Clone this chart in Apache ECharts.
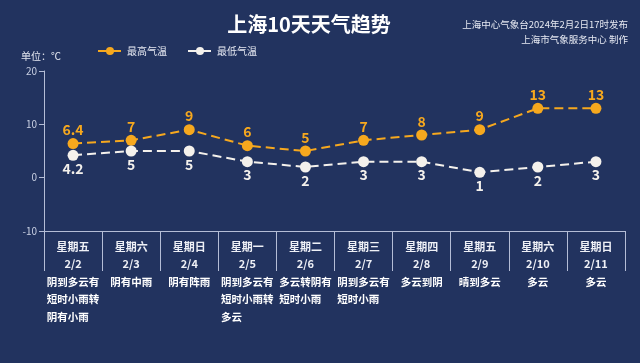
<!DOCTYPE html>
<html><head><meta charset="utf-8">
<script src="https://cdn.jsdelivr.net/npm/echarts@6/dist/echarts.min.js"></script>
<style>html,body{margin:0;padding:0;background:#22335f;}#c{width:640px;height:363px;}</style>
</head><body><div id="c"></div>
<script>
const weekdays = ['星期五','星期六','星期日','星期一','星期二','星期三','星期四','星期五','星期六','星期日'];
const dates = ['2/2','2/3','2/4','2/5','2/6','2/7','2/8','2/9','2/10','2/11'];
const weather = ['阴到多云有短时小雨转阴有小雨','阴有中雨','阴有阵雨','阴到多云有短时小雨转多云','多云转阴有短时小雨','阴到多云有短时小雨','多云到阴','晴到多云','多云','多云'];
const highTemps = [6.4, 7, 9, 6, 5, 7, 8, 9, 13, 13];
const lowTemps = [4.2, 5, 5, 3, 2, 3, 3, 1, 2, 3];
const yTicks = {min: -10, max: 20, interval: 10};

function chunk(s, n){ const out=[]; for(let i=0;i<s.length;i+=n) out.push(s.slice(i,i+n)); return out; }
const FONT = '"Noto Sans CJK SC", "Noto Sans", sans-serif';
const chart = echarts.init(document.getElementById('c'));
chart.setOption({
  backgroundColor: '#22335f',
  textStyle: {fontFamily: FONT},
  title: [
    {text: '上海10天天气趋势', left: 304, top: 9, textAlign: 'center',
     textStyle: {color: '#ffffff', fontSize: 20, fontWeight: 'bold', fontFamily: FONT}},
    {text: '上海中心气象台2024年2月2日17时发布', right: 7, top: 15,
     textStyle: {color: '#e6e9f2', fontSize: 9.5, fontWeight: 'normal', fontFamily: FONT}},
    {text: '上海市气象服务中心 制作', right: 7, top: 30,
     textStyle: {color: '#e6e9f2', fontSize: 9.5, fontWeight: 'normal', fontFamily: FONT}}
  ],
  legend: {
    left: 92, top: 41, itemWidth: 24, itemHeight: 10, itemGap: 20,
    textStyle: {color: '#e6e9f2', fontSize: 10, fontFamily: FONT},
    data: ['最高气温','最低气温']
  },
  grid: {left: 44, right: 15, top: 71, bottom: 132},
  xAxis: [{
    type: 'category', data: dates, boundaryGap: true, position: 'bottom',
    axisLine: {onZero: false, lineStyle: {color: '#b4bdd6', width: 1}},
    axisTick: {show: true, length: 40, lineStyle: {color: '#b4bdd6'}},
    axisLabel: {
      interval: 0, margin: 7, color: '#ffffff',
      formatter: function(v, i){ return '{h|' + weekdays[i] + '}\n{h|' + dates[i] + '}'; },
      rich: {
        h: {fontSize: 11, fontWeight: 'bold', color: '#eef0f6', lineHeight: 17, align: 'center', fontFamily: FONT}
      }
    }
  }, {
    type: 'category', data: dates, boundaryGap: true, position: 'bottom',
    axisLine: {show: false, onZero: false}, axisTick: {show: false},
    axisLabel: {
      interval: 0, margin: 42, color: '#ffffff',
      formatter: function(v, i){ return chunk(weather[i], 5).map(s => '{w|' + s + '}').join('\n'); },
      rich: {
        w: {fontSize: 10.5, fontWeight: 'bold', color: '#ffffff', lineHeight: 17.5, align: 'left', fontFamily: FONT}
      }
    }
  }],
  yAxis: {
    type: 'value', min: yTicks.min, max: yTicks.max, interval: yTicks.interval,
    name: '单位：℃', nameLocation: 'end', nameGap: 10,
    nameTextStyle: {color: '#e6e9f2', fontSize: 10, align: 'center', padding: [0, 6, 0, 0], fontFamily: FONT},
    axisLine: {show: true, lineStyle: {color: '#b4bdd6'}},
    axisTick: {show: true, length: 5, lineStyle: {color: '#b4bdd6'}},
    axisLabel: {color: '#c8cfe2', fontSize: 10, margin: 7},
    splitLine: {show: false}
  },
  series: [
    {name: '最高气温', type: 'line', data: highTemps, symbol: 'circle', symbolSize: 11,
     itemStyle: {color: '#f6a81e'},
     lineStyle: {color: '#f6a81e', width: 2, type: [9, 5]},
     label: {show: true, position: 'top', distance: 1, color: '#f6a81e', fontSize: 14, fontWeight: 'bold', fontFamily: FONT}},
    {name: '最低气温', type: 'line', data: lowTemps, symbol: 'circle', symbolSize: 11,
     itemStyle: {color: '#f4f1ec'},
     lineStyle: {color: '#f4f1ec', width: 2, type: [9, 5]},
     label: {show: true, position: 'bottom', distance: 1, color: '#f4f1ec', fontSize: 14, fontWeight: 'bold', fontFamily: FONT}}
  ]
});
</script></body></html>
